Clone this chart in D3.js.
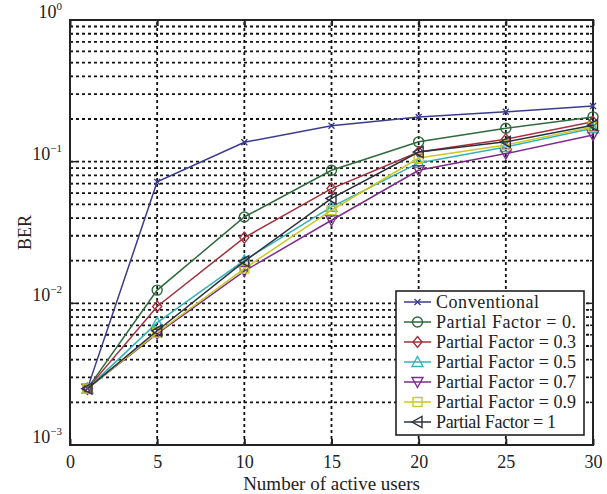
<!DOCTYPE html>
<html>
<head>
<meta charset="utf-8">
<script src="https://cdn.jsdelivr.net/npm/d3@7"></script>
<style>
  body { margin:0; background:#fff; }
  svg text, svg tspan { font-family: "Liberation Serif", "Times New Roman", serif !important; fill:#222; }
</style>
</head>
<body>
<div id="chart"></div>
<script>
// BER über Anzahl aktiver Nutzer, log-Skala
const users = [1, 5, 10, 15, 20, 25, 30];
const seriesNames = ["Conventional", "Partial Factor = 0.", "Partial Factor = 0.3", "Partial Factor = 0.5",
  "Partial Factor = 0.7", "Partial Factor = 0.9", "Partial Factor = 1"];
const berConv = [0.0025, 0.072, 0.137, 0.179, 0.207, 0.225, 0.247];
const ber00   = [0.0025, 0.0124, 0.0407, 0.087, 0.138, 0.172, 0.207];
const ber03   = [0.0025, 0.0095, 0.0291, 0.0646, 0.117, 0.144, 0.191];
const ber05   = [0.0025, 0.0073, 0.0201, 0.048, 0.098, 0.127, 0.172];
const ber07   = [0.0025, 0.0061, 0.0169, 0.0386, 0.087, 0.114, 0.154];
const ber09   = [0.0025, 0.0062, 0.0176, 0.0454, 0.106, 0.131, 0.176];
const ber10   = [0.0025, 0.0064, 0.0198, 0.055, 0.117, 0.138, 0.181];
const xTicks = [0, 5, 10, 15, 20, 25, 30];
const yDecades = [1e-3, 1e-2, 1e-1, 1];

const colors = ["#3b3b8e", "#2f6a3c", "#a3303c", "#33b3b8", "#7d2d8c", "#c9c924", "#2e3040"];
const symbols = ["x", "circle", "diamond", "triUp", "triDown", "square", "triLeft"];
const allSeries = [berConv, ber00, ber03, ber05, ber07, ber09, ber10];

const W = 607, H = 494, m = {l:70, r:14, t:20, b:49};
const x = d3.scaleLinear().domain([0, 30]).range([m.l, W - m.r]);
const y = d3.scaleLog().domain([1e-3, 1]).range([H - m.b, m.t]);

const svg = d3.select("#chart").append("svg").attr("width", W).attr("height", H)
  .attr("font-family", "Liberation Serif, serif");

// Gitter
const minor = [];
for (let d = -3; d < 0; d++) for (let k = 2; k <= 9; k++) minor.push(k * Math.pow(10, d));
const grid = svg.append("g").attr("stroke", "#111").attr("stroke-width", 1.8).attr("stroke-dasharray", "3,3");
grid.selectAll(".gy").data(minor.concat([1e-2, 1e-1])).join("line")
  .attr("x1", x(0)).attr("x2", x(30)).attr("y1", d => y(d)).attr("y2", d => y(d));
grid.selectAll(".gx").data([5, 10, 15, 20, 25]).join("line")
  .attr("x1", d => x(d)).attr("x2", d => x(d)).attr("y1", y(1e-3)).attr("y2", y(1));

// Achsen mit Innen-Ticks
svg.append("g").attr("transform", `translate(0,${y(1e-3)})`)
  .call(d3.axisBottom(x).tickValues(xTicks).tickSize(-6).tickPadding(10).tickFormat(d3.format("d")))
  .call(g => g.select(".domain").remove())
  .call(g => g.selectAll("line").attr("stroke", "#222").attr("stroke-width", 2))
  .call(g => g.selectAll("text").attr("font-size", 18).attr("font-family", "Liberation Serif").attr("fill", "#222"));
svg.append("g").attr("transform", `translate(0,${y(1)})`)
  .call(d3.axisTop(x).tickValues(xTicks).tickSize(-6).tickFormat(""))
  .call(g => g.select(".domain").remove())
  .call(g => g.selectAll("line").attr("stroke", "#222").attr("stroke-width", 2));
[[m.l, 1], [W - m.r, -1]].forEach(([px, dir]) => {
  svg.append("g").selectAll("line").data(minor.concat(yDecades)).join("line")
    .attr("x1", px).attr("x2", d => px + dir * (yDecades.includes(d) ? 6 : 3))
    .attr("y1", d => y(d)).attr("y2", d => y(d)).attr("stroke", "#222").attr("stroke-width", 1.5);
});
svg.append("rect").attr("x", x(0)).attr("y", y(1)).attr("width", x(30) - x(0)).attr("height", y(1e-3) - y(1))
  .attr("fill", "none").attr("stroke", "#222").attr("stroke-width", 2);

// y-Beschriftung 10^n
const yl = svg.append("g").selectAll("text").data(yDecades).join("text")
  .attr("x", 62).attr("y", d => y(d) - 2).attr("text-anchor", "end").attr("font-size", 18);
yl.append("tspan").text("10");
yl.append("tspan").attr("dy", -8).attr("font-size", 11).text(d => Math.round(Math.log10(d)) === 0 ? "0" : "\u2212" + Math.abs(Math.round(Math.log10(d))));

svg.append("text").attr("transform", `translate(31,${(y(1) + y(1e-3)) / 2}) rotate(-90)`)
  .attr("text-anchor", "middle").attr("font-size", 18).text("BER");
svg.append("text").attr("x", (x(0) + x(30)) / 2).attr("y", 490).attr("text-anchor", "middle")
  .attr("font-size", 19).text("Number of active users");

// Marker
function marker(g, type, cx, cy, col, s = 4.5) {
  const a = { fill: "none", stroke: col, "stroke-width": 1.4 };
  let el;
  if (type === "circle") el = g.append("circle").attr("cx", cx).attr("cy", cy).attr("r", s + 0.5);
  else if (type === "square") el = g.append("rect").attr("x", cx - s).attr("y", cy - s).attr("width", 2 * s).attr("height", 2 * s);
  else if (type === "x") el = g.append("path").attr("d", `M${cx-3},${cy-3}L${cx+3},${cy+3}M${cx-3},${cy+3}L${cx+3},${cy-3}`);
  else {
    const pts = {
      diamond: [[0, -s - 1], [s, 0], [0, s + 1], [-s, 0]],
      triUp: [[0, -s - 1], [s + 1, s], [-s - 1, s]],
      triDown: [[0, s + 1], [s + 1, -s], [-s - 1, -s]],
      triLeft: [[-s - 1, 0], [s, -s - 1], [s, s + 1]]
    }[type];
    el = g.append("path").attr("d", "M" + pts.map(p => [cx + p[0], cy + p[1]].join(",")).join("L") + "Z");
  }
  Object.entries(a).forEach(([k, v]) => el.attr(k, v));
}

const line = d3.line().x((d, i) => x(users[i])).y(d => y(d));
const plot = svg.append("g");
allSeries.forEach((vals, si) => {
  plot.append("path").datum(vals).attr("d", line).attr("fill", "none")
    .attr("stroke", colors[si]).attr("stroke-width", 1.5);
  vals.forEach((v, i) => marker(plot, symbols[si], x(users[i]), y(v), colors[si]));
});

// Legende
const lg = svg.append("g");
lg.append("rect").attr("x", 396).attr("y", 291).attr("width", 188).attr("height", 144)
  .attr("fill", "#fff").attr("stroke", "#222").attr("stroke-width", 1.6);
seriesNames.forEach((name, i) => {
  const ly = 302 + i * 20;
  lg.append("line").attr("x1", 404).attr("x2", 431).attr("y1", ly).attr("y2", ly)
    .attr("stroke", colors[i]).attr("stroke-width", 1.5);
  marker(lg, symbols[i], 417.5, ly, colors[i]);
  lg.append("text").attr("x", 436).attr("y", ly + 6).attr("font-size", 18)
    .attr("textLength", name.length > 14 ? (name.endsWith("1") ? 120 : 140) : 103)
    .text(name);
});
</script>
</body>
</html>
